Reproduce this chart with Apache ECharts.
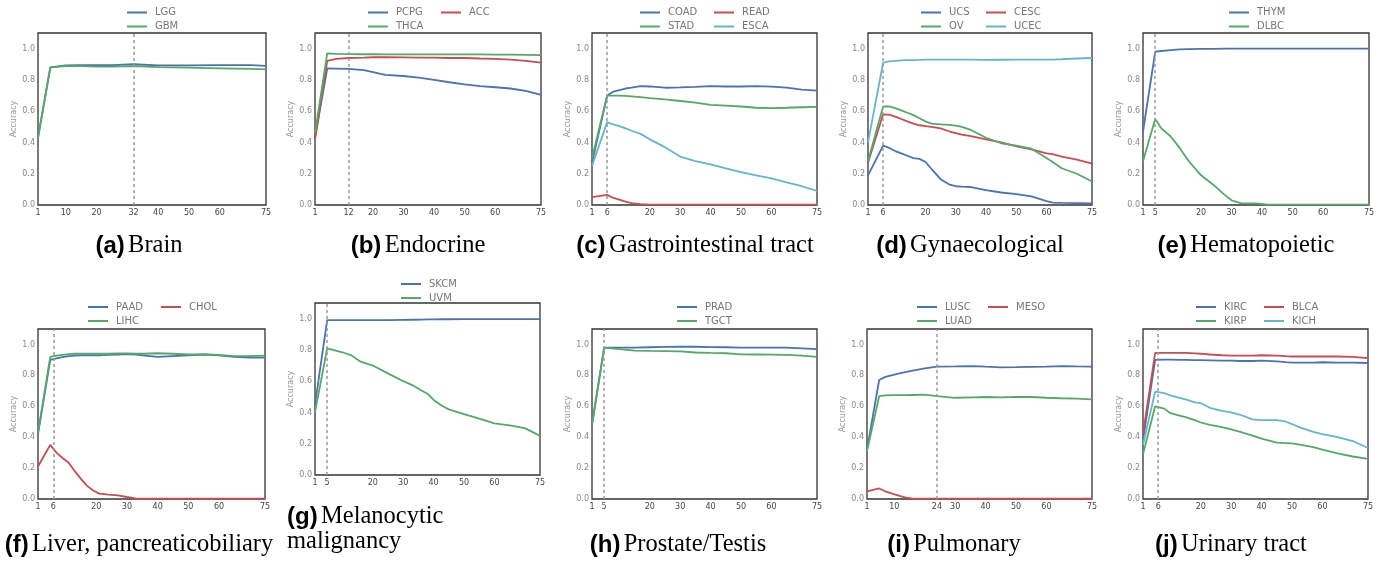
<!DOCTYPE html>
<html>
<head>
<meta charset="utf-8">
<script src="https://cdn.jsdelivr.net/npm/echarts@6.0.0/dist/echarts.min.js"></script>
<style>
  html, body { margin: 0; padding: 0; background: #fff; }
  #main { width: 1390px; height: 562px; }
</style>
</head>
<body>
<div id="main"></div>
<script>
// -- data (x = number of features, y = accuracy) --
const aX = [1, 5, 10, 15, 20, 25, 32, 40, 50, 60, 70, 75];
const LGG = [0.43, 0.88, 0.893, 0.895, 0.895, 0.895, 0.90, 0.893, 0.893, 0.895, 0.895, 0.89];
const GBM = [0.43, 0.88, 0.888, 0.888, 0.885, 0.885, 0.888, 0.882, 0.878, 0.874, 0.87, 0.868];

const bX = [1, 5, 8, 12, 17, 20, 24, 30, 35, 40, 45, 50, 55, 60, 65, 70, 75];
const PCPG = [0.43, 0.873, 0.872, 0.87, 0.862, 0.85, 0.832, 0.825, 0.815, 0.80, 0.785, 0.772, 0.76, 0.753, 0.745, 0.73, 0.705];
const THCA = [0.46, 0.97, 0.966, 0.965, 0.964, 0.964, 0.963, 0.963, 0.963, 0.963, 0.963, 0.963, 0.963, 0.962, 0.962, 0.96, 0.958];
const ACC = [0.42, 0.922, 0.935, 0.94, 0.942, 0.945, 0.945, 0.944, 0.943, 0.942, 0.94, 0.94, 0.937, 0.935, 0.93, 0.922, 0.91];

const cX = [1, 6, 8, 10, 12, 14, 17, 20, 25, 30, 35, 40, 45, 50, 55, 60, 65, 70, 75];
const COAD = [0.27, 0.70, 0.725, 0.735, 0.745, 0.75, 0.76, 0.758, 0.75, 0.752, 0.755, 0.76, 0.758, 0.758, 0.76, 0.757, 0.75, 0.738, 0.732];
const STAD = [0.30, 0.70, 0.70, 0.70, 0.698, 0.695, 0.69, 0.683, 0.675, 0.665, 0.655, 0.64, 0.635, 0.63, 0.622, 0.62, 0.622, 0.625, 0.627];
const READ = [0.05, 0.065, 0.045, 0.035, 0.022, 0.012, 0.005, 0.003, 0.003, 0.003, 0.003, 0.003, 0.003, 0.003, 0.003, 0.003, 0.003, 0.003, 0.003];
const ESCA = [0.25, 0.53, 0.515, 0.505, 0.49, 0.475, 0.455, 0.42, 0.37, 0.31, 0.28, 0.26, 0.235, 0.21, 0.19, 0.17, 0.145, 0.12, 0.09];

const dX = [1, 6, 8, 10, 12, 14, 16, 18, 20, 22, 25, 28, 30, 32, 35, 40, 45, 50, 55, 60, 62, 65, 70, 75];
const UCS = [0.19, 0.38, 0.365, 0.345, 0.33, 0.315, 0.30, 0.295, 0.275, 0.23, 0.165, 0.13, 0.12, 0.117, 0.115, 0.095, 0.08, 0.07, 0.055, 0.025, 0.015, 0.013, 0.012, 0.01];
const OV = [0.28, 0.63, 0.63, 0.62, 0.605, 0.59, 0.575, 0.555, 0.535, 0.52, 0.515, 0.512, 0.508, 0.50, 0.48, 0.43, 0.395, 0.38, 0.36, 0.30, 0.275, 0.235, 0.20, 0.15];
const CESC = [0.27, 0.58, 0.578, 0.565, 0.55, 0.535, 0.52, 0.51, 0.505, 0.50, 0.49, 0.47, 0.46, 0.45, 0.44, 0.42, 0.40, 0.375, 0.355, 0.33, 0.325, 0.31, 0.29, 0.265];
const UCEC = [0.40, 0.91, 0.918, 0.922, 0.925, 0.926, 0.927, 0.928, 0.93, 0.93, 0.93, 0.93, 0.93, 0.93, 0.93, 0.928, 0.929, 0.93, 0.93, 0.93, 0.93, 0.932, 0.937, 0.94];

const eX = [1, 5, 7, 10, 13, 16, 20, 24, 28, 30, 33, 38, 42, 50, 60, 75];
const THYM = [0.47, 0.98, 0.985, 0.99, 0.995, 0.997, 0.998, 0.999, 1.0, 1.0, 1.0, 1.0, 1.0, 1.0, 1.0, 1.0];
const DLBC = [0.28, 0.55, 0.49, 0.44, 0.365, 0.28, 0.19, 0.13, 0.06, 0.03, 0.012, 0.01, 0.003, 0.002, 0.002, 0.002];

const fX = [1, 5, 7, 9, 11, 13, 15, 17, 19, 21, 24, 27, 30, 33, 35, 40, 45, 50, 55, 60, 65, 70, 75];
const PAAD = [0.42, 0.90, 0.91, 0.918, 0.925, 0.928, 0.93, 0.93, 0.93, 0.93, 0.932, 0.935, 0.938, 0.935, 0.93, 0.92, 0.925, 0.93, 0.935, 0.93, 0.92, 0.915, 0.915];
const LIHC = [0.43, 0.92, 0.928, 0.933, 0.937, 0.94, 0.94, 0.94, 0.94, 0.94, 0.94, 0.942, 0.942, 0.94, 0.94, 0.943, 0.94, 0.935, 0.935, 0.932, 0.925, 0.925, 0.928];
const CHOL = [0.21, 0.35, 0.30, 0.265, 0.235, 0.18, 0.13, 0.085, 0.055, 0.035, 0.028, 0.024, 0.013, 0.003, 0.003, 0.003, 0.003, 0.003, 0.003, 0.003, 0.003, 0.003, 0.003];

const gX = [1, 5, 10, 13, 16, 20, 25, 30, 33, 36, 38, 40, 43, 45, 50, 55, 60, 65, 70, 75];
const SKCM = [0.45, 0.99, 0.99, 0.99, 0.99, 0.99, 0.99, 0.992, 0.993, 0.994, 0.995, 0.995, 0.996, 0.996, 0.997, 0.997, 0.997, 0.997, 0.997, 0.997];
const UVM = [0.40, 0.81, 0.785, 0.765, 0.725, 0.70, 0.65, 0.60, 0.575, 0.54, 0.52, 0.48, 0.44, 0.42, 0.39, 0.36, 0.33, 0.318, 0.30, 0.25];

const hX = [1, 5, 10, 15, 20, 25, 30, 35, 40, 45, 50, 55, 60, 65, 70, 75];
const PRAD = [0.48, 0.98, 0.98, 0.98, 0.982, 0.984, 0.985, 0.985, 0.983, 0.982, 0.98, 0.98, 0.98, 0.979, 0.975, 0.97];
const TGCT = [0.48, 0.98, 0.97, 0.96, 0.958, 0.957, 0.955, 0.948, 0.945, 0.943, 0.936, 0.935, 0.934, 0.932, 0.928, 0.92];

const iX = [1, 5, 7, 10, 12, 14, 16, 20, 24, 30, 36, 40, 45, 50, 55, 60, 65, 70, 75];
const LUSC = [0.32, 0.77, 0.79, 0.805, 0.815, 0.822, 0.83, 0.845, 0.857, 0.858, 0.86, 0.856, 0.852, 0.853, 0.855, 0.857, 0.86, 0.858, 0.857];
const LUAD = [0.31, 0.665, 0.67, 0.672, 0.672, 0.672, 0.673, 0.675, 0.665, 0.655, 0.658, 0.66, 0.658, 0.66, 0.66, 0.655, 0.652, 0.65, 0.645];
const MESO = [0.05, 0.068, 0.05, 0.03, 0.018, 0.008, 0.003, 0.003, 0.003, 0.003, 0.003, 0.003, 0.003, 0.003, 0.003, 0.003, 0.003, 0.003, 0.003];

const jX = [1, 5, 8, 10, 13, 15, 18, 20, 23, 27, 30, 33, 37, 40, 45, 48, 50, 53, 57, 60, 65, 70, 75];
const KIRC = [0.38, 0.90, 0.902, 0.902, 0.90, 0.90, 0.898, 0.898, 0.897, 0.895, 0.895, 0.893, 0.893, 0.895, 0.89, 0.885, 0.882, 0.882, 0.883, 0.885, 0.883, 0.882, 0.88];
const BLCA = [0.42, 0.945, 0.945, 0.945, 0.945, 0.945, 0.942, 0.94, 0.935, 0.93, 0.928, 0.928, 0.928, 0.93, 0.928, 0.924, 0.922, 0.922, 0.922, 0.923, 0.922, 0.92, 0.912];
const KICH = [0.35, 0.695, 0.685, 0.67, 0.655, 0.645, 0.625, 0.62, 0.59, 0.57, 0.56, 0.545, 0.515, 0.51, 0.51, 0.50, 0.485, 0.46, 0.435, 0.42, 0.40, 0.375, 0.33];
const KIRP = [0.29, 0.60, 0.585, 0.555, 0.54, 0.53, 0.51, 0.495, 0.48, 0.465, 0.45, 0.435, 0.41, 0.39, 0.365, 0.362, 0.36, 0.35, 0.335, 0.32, 0.295, 0.275, 0.26];

// tick labels on x and the dashed marker per panel
const ticksA = [1, 10, 20, 32, 40, 50, 60, 75];
const ticksB = [1, 12, 20, 30, 40, 50, 60, 75];
const ticks6 = [1, 6, 20, 30, 40, 50, 60, 75];
const ticks5 = [1, 5, 20, 30, 40, 50, 60, 75];
const ticksI = [1, 10, 24, 30, 40, 50, 60, 75];
const yTicks = [0, 0.2, 0.4, 0.6, 0.8, 1.0];

const BLUE = '#4C72B0', GREEN = '#55A868', RED = '#C44E52', CYAN = '#64B5CD';

// -- layout of the 10 small plots --
const panels = [
  {tag: '(a)', cap: 'Brain', capX: 139, capY: 246, grid: [38, 33, 228, 172], ticks: ticksA, vline: 32, legTop: 5.5,
   cols: [[127, ['LGG', 'GBM']]],
   series: [['LGG', BLUE, aX, LGG], ['GBM', GREEN, aX, GBM]]},
  {tag: '(b)', cap: 'Endocrine', capX: 418, capY: 246, grid: [315, 33, 226, 172], ticks: ticksB, vline: 12, legTop: 5.5,
   cols: [[368, ['PCPG', 'THCA']], [441, ['ACC']]],
   series: [['PCPG', BLUE, bX, PCPG], ['ACC', RED, bX, ACC], ['THCA', GREEN, bX, THCA]]},
  {tag: '(c)', cap: 'Gastrointestinal tract', capX: 695, capY: 246, grid: [592, 33, 225, 172], ticks: ticks6, vline: 6, legTop: 5.5,
   cols: [[640, ['COAD', 'STAD']], [714, ['READ', 'ESCA']]],
   series: [['COAD', BLUE, cX, COAD], ['READ', RED, cX, READ], ['STAD', GREEN, cX, STAD], ['ESCA', CYAN, cX, ESCA]]},
  {tag: '(d)', cap: 'Gynaecological', capX: 970, capY: 246, grid: [868, 33, 224, 172], ticks: ticks6, vline: 6, legTop: 5.5,
   cols: [[921, ['UCS', 'OV']], [986, ['CESC', 'UCEC']]],
   series: [['UCS', BLUE, dX, UCS], ['CESC', RED, dX, CESC], ['OV', GREEN, dX, OV], ['UCEC', CYAN, dX, UCEC]]},
  {tag: '(e)', cap: 'Hematopoietic', capX: 1246, capY: 246, grid: [1143, 33, 226, 172], ticks: ticks5, vline: 5, legTop: 5.5,
   cols: [[1229, ['THYM', 'DLBC']]],
   series: [['THYM', BLUE, eX, THYM], ['DLBC', GREEN, eX, DLBC]]},
  {tag: '(f)', cap: 'Liver, pancreaticobiliary', capX: 139, capY: 545, grid: [38, 329, 227, 170], ticks: ticks6, vline: 6, legTop: 300,
   cols: [[88, ['PAAD', 'LIHC']], [161, ['CHOL']]],
   series: [['PAAD', BLUE, fX, PAAD], ['CHOL', RED, fX, CHOL], ['LIHC', GREEN, fX, LIHC]]},
  {tag: '(g)', cap: 'Melanocytic', cap2: 'malignancy', capX: 287, capY: 517, grid: [315, 303, 225, 172], ticks: ticks5, vline: 5, legTop: 277,
   cols: [[401, ['SKCM', 'UVM']]],
   series: [['SKCM', BLUE, gX, SKCM], ['UVM', GREEN, gX, UVM]]},
  {tag: '(h)', cap: 'Prostate/Testis', capX: 678, capY: 545, grid: [592, 329, 225, 170], ticks: ticks5, vline: 5, legTop: 300,
   cols: [[677, ['PRAD', 'TGCT']]],
   series: [['PRAD', BLUE, hX, PRAD], ['TGCT', GREEN, hX, TGCT]]},
  {tag: '(i)', cap: 'Pulmonary', capX: 954, capY: 545, grid: [867, 329, 225, 170], ticks: ticksI, vline: 24, legTop: 300,
   cols: [[917, ['LUSC', 'LUAD']], [988, ['MESO']]],
   series: [['LUSC', BLUE, iX, LUSC], ['MESO', RED, iX, MESO], ['LUAD', GREEN, iX, LUAD]]},
  {tag: '(j)', cap: 'Urinary tract', capX: 1231, capY: 545, grid: [1143, 329, 225, 170], ticks: ticks6, vline: 6, legTop: 300,
   cols: [[1196, ['KIRC', 'KIRP']], [1264, ['BLCA', 'KICH']]],
   series: [['KIRC', BLUE, jX, KIRC], ['BLCA', RED, jX, BLCA], ['KIRP', GREEN, jX, KIRP], ['KICH', CYAN, jX, KICH]]}
];

const FONT = 'DejaVu Sans';
let option = {
  animation: false,
  backgroundColor: '#fff',
  grid: [], xAxis: [], yAxis: [], series: [], legend: [], graphic: []
};

panels.forEach(function (p, k) {
  option.grid.push({
    left: p.grid[0], top: p.grid[1], width: p.grid[2], height: p.grid[3],
    show: true, borderColor: '#333', borderWidth: 1.3, backgroundColor: '#fff',
    containLabel: false, outerBoundsMode: 'none'
  });
  option.xAxis.push({
    type: 'value', gridIndex: k, min: 1, max: 75,
    axisLine: {show: false}, splitLine: {show: false},
    axisTick: {show: false},
    axisLabel: {customValues: p.ticks, color: '#444', fontSize: 8, fontFamily: FONT, margin: 4}
  });
  option.yAxis.push({
    type: 'value', gridIndex: k, min: 0, max: 1.1,
    name: 'Accuracy', nameLocation: 'middle', nameGap: 16,
    nameTextStyle: {color: '#999', fontSize: 8, fontFamily: FONT},
    axisLine: {show: false}, splitLine: {show: false},
    axisTick: {show: false},
    axisLabel: {customValues: yTicks, color: '#888', fontSize: 8, fontFamily: FONT, margin: 3,
                formatter: function (v) { return v.toFixed(1); }}
  });
  p.series.forEach(function (s, n) {
    let ser = {
      name: s[0], type: 'line', xAxisIndex: k, yAxisIndex: k,
      color: s[1], symbol: 'none', smooth: false,
      lineStyle: {color: s[1], width: 1.8},
      data: s[2].map(function (x, i) { return [x, s[3][i]]; })
    };
    if (n === 0) {
      ser.markLine = {
        silent: true, symbol: ['none', 'none'], label: {show: false},
        lineStyle: {color: '#999', type: [3, 3], width: 1.5},
        data: [{xAxis: p.vline}]
      };
    }
    option.series.push(ser);
  });
  p.cols.forEach(function (c) {
    option.legend.push({
      orient: 'vertical', left: c[0], top: p.legTop, padding: 0, itemGap: 0,
      icon: 'rect', itemWidth: 20, itemHeight: 2, selectedMode: false,
      textStyle: {color: '#777', fontSize: 10, fontFamily: FONT, lineHeight: 14, padding: [0, 0, 0, 3]},
      data: c[1]
    });
  });
  let rich = {
    b: {fontFamily: 'Liberation Sans', fontWeight: 'bold', fontSize: 24, fill: '#000'},
    t: {fontFamily: 'Liberation Serif', fontSize: 24.5, fill: '#000'}
  };
  option.graphic.push({
    type: 'text', x: p.capX, y: p.capY,
    style: {text: '{b|' + p.tag + '} {t|' + p.cap + '}', rich: rich,
            align: p.cap2 ? 'left' : 'center', verticalAlign: 'middle'}
  });
  if (p.cap2) {
    option.graphic.push({
      type: 'text', x: p.capX, y: p.capY + 25,
      style: {text: '{t|' + p.cap2 + '}', rich: rich, align: 'left', verticalAlign: 'middle'}
    });
  }
});

let myChart = echarts.init(document.getElementById('main'));
myChart.setOption(option);
</script>
</body>
</html>
